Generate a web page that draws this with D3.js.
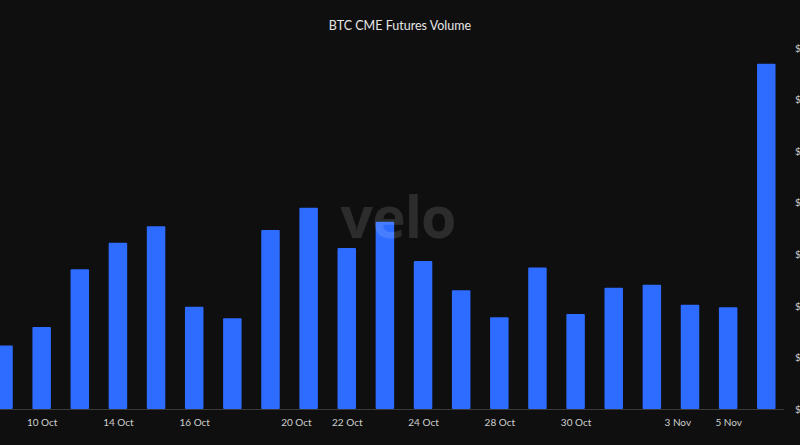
<!DOCTYPE html>
<html>
<head>
<meta charset="utf-8">
<script src="https://cdn.jsdelivr.net/npm/d3@7"></script>
<style>
  html, body { margin: 0; padding: 0; background: #0f0f0f; }
  svg { display: block; }
</style>
</head>
<body>
<div id="chart"></div>
<script>
// ---- data ----
const dates = ["2024-10-09","2024-10-10","2024-10-11","2024-10-14","2024-10-15","2024-10-16","2024-10-17",
               "2024-10-18","2024-10-21","2024-10-22","2024-10-23","2024-10-24","2024-10-25","2024-10-28",
               "2024-10-29","2024-10-30","2024-10-31","2024-11-01","2024-11-04","2024-11-05","2024-11-06"];
const volumeB = [1.23, 1.59, 2.71, 3.22, 3.54, 1.98, 1.76, 3.47, 3.90, 3.12, 3.63, 2.87, 2.30, 1.78,
                 2.74, 1.84, 2.35, 2.41, 2.02, 1.97, 6.69];
const tickDates  = ["2024-10-10","2024-10-14","2024-10-16","2024-10-20","2024-10-22","2024-10-24",
                    "2024-10-28","2024-10-30","2024-11-03","2024-11-05"];
const tickLabels = ["10 Oct","14 Oct","16 Oct","20 Oct","22 Oct","24 Oct","28 Oct","30 Oct","3 Nov","5 Nov"];
const yTicks = [0, 1, 2, 3, 4, 5, 6, 7];
const yTickLabels = ["$0", "$1B", "$2B", "$3B", "$4B", "$5B", "$6B", "$7B"];
const title = "BTC CME Futures Volume";

// ---- layout ----
const W = 800, H = 445;
const svg = d3.select("#chart").append("svg").attr("width", W).attr("height", H)
  .style("background", "#0f0f0f");

const x = d3.scaleBand().domain(dates).range([-14.2, 784]).paddingInner(0.515).paddingOuter(0.222);
const y = d3.scaleLinear().domain([0, 7]).range([409, 47.8]);

const font = "Lato, 'Open Sans', sans-serif";

// title
svg.append("text").attr("x", 400).attr("y", 30).attr("text-anchor", "middle")
  .attr("fill", "#e6e6e6").style("font-family", font).style("font-size", "12.5px")
  .text(title);

// bars
svg.append("g").selectAll("rect").data(dates).join("rect")
  .attr("x", d => x(d))
  .attr("y", (d, i) => y(volumeB[i]))
  .attr("width", x.bandwidth())
  .attr("height", (d, i) => y(0) - y(volumeB[i]))
  .attr("rx", 1)
  .attr("fill", "#2e6bff");

// watermark
svg.append("text").attr("x", 398).attr("y", 238).attr("text-anchor", "middle")
  .attr("fill", "#ffffff").attr("fill-opacity", 0.12)
  .style("font-family", "'Open Sans', sans-serif").style("font-weight", 700).style("font-size", "57px")
  .style("letter-spacing", "-1px")
  .text("velo");

// x axis: ticks on trading days at band centre, weekend dates placed before next session
const parse = d3.timeParse("%Y-%m-%d");
function xPos(ds) {
  if (x(ds) !== undefined) return x(ds) + x.bandwidth() / 2;
  const t = parse(ds);
  const next = dates.find(d => parse(d) > t);
  return x(next) + x.bandwidth() / 2 - x.step() / 3;
}
const xAxisScale = d3.scaleOrdinal().domain(tickDates).range(tickDates.map(xPos));
const xAxis = svg.append("g").attr("transform", "translate(0,409)")
  .call(d3.axisBottom(xAxisScale).tickSize(0).tickFormat((d, i) => tickLabels[i]));
xAxis.select(".domain").remove();
xAxis.selectAll("text").attr("dy", "1.35em").attr("fill", "#cfcfcf")
  .style("font-family", font).style("font-size", "10px");
svg.append("line").attr("x1", 0).attr("x2", 784).attr("y1", 409.5).attr("y2", 409.5)
  .attr("stroke", "#3a3a3a").attr("stroke-width", 1);

// y axis on the right (labels run past the right edge, as in the reference)
const yAxis = svg.append("g").attr("transform", "translate(795,0)")
  .call(d3.axisRight(y).tickValues(yTicks).tickSize(0).tickPadding(0)
    .tickFormat((d, i) => yTickLabels[i]));
yAxis.select(".domain").remove();
yAxis.selectAll("text").attr("fill", "#cfcfcf").style("font-family", font).style("font-size", "10px");
</script>
</body>
</html>
